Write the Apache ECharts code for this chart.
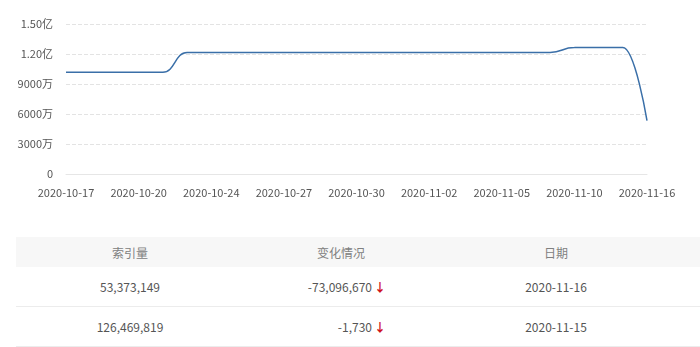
<!DOCTYPE html>
<html><head><meta charset="utf-8">
<script src="https://cdn.jsdelivr.net/npm/echarts@6/dist/echarts.min.js"></script>
<style>
html,body{margin:0;padding:0;background:#fff;width:700px;height:347px;overflow:hidden;font-family:"Noto Sans CJK SC","Noto Sans",sans-serif;}
#chart{position:absolute;left:0;top:0;width:700px;height:230px;}
#tbl{position:absolute;left:16px;top:237px;width:684px;font-size:12px;color:#555;}
.row{position:relative;height:39px;border-bottom:1px solid #ececec;}
.head{height:30px;background:#f7f7f7;border-bottom:none;color:#808080;}
.cell{position:absolute;top:0;height:100%;display:flex;align-items:center;justify-content:center;}
.c1{left:0;width:228px;}
.c2{left:228px;width:194px;}
.c3{left:422px;width:236px;}
.row .c2.val{justify-content:flex-end;width:142px;}
.arr{color:#d0141c;font-weight:bold;margin-left:2px;font-size:12px;}
</style>
</head><body>
<div id="chart"></div>
<div id="tbl"></div>
<script>
const dates = ["2020-10-17","2020-10-18","2020-10-19","2020-10-20","2020-10-21","2020-10-22","2020-10-24","2020-10-25","2020-10-26","2020-10-27","2020-10-28","2020-10-29","2020-10-30","2020-10-31","2020-11-01","2020-11-02","2020-11-03","2020-11-04","2020-11-05","2020-11-07","2020-11-08","2020-11-10","2020-11-14","2020-11-15","2020-11-16"];
const indexValues = [101700000,101700000,101700000,101700000,101700000,121600000,121600000,121600000,121600000,121600000,121600000,121600000,121600000,121600000,121600000,121600000,121600000,121600000,121600000,121600000,121600000,126470000,126471549,126469819,53373149];
const tableHeaders = ["索引量","变化情况","日期"];
const tableVolumes = ["53,373,149","126,469,819"];
const tableChanges = ["-73,096,670","-1,730"];
const tableDates = ["2020-11-16","2020-11-15"];

function fmtY(v){
  if(v===0) return "0";
  if(v>=100000000) return (v/100000000).toFixed(2)+"亿";
  return (v/10000)+"万";
}
const chart = echarts.init(document.getElementById('chart'));
chart.setOption({
  animation:false,
  grid:{left:66,right:53,top:24,height:150},
  xAxis:{type:'category',data:dates,boundaryGap:false,
    axisLine:{lineStyle:{color:'#e6e6e6'}},axisTick:{show:false},
    axisLabel:{interval:2,color:'#555',fontSize:11,margin:13,fontFamily:'"Noto Sans CJK SC"'}},
  yAxis:{type:'value',min:0,max:150000000,interval:30000000,
    axisLine:{show:false},axisTick:{show:false},
    splitLine:{lineStyle:{color:'#e3e3e3',type:'dashed'}},
    axisLabel:{formatter:fmtY,color:'#555',fontSize:11,margin:13,fontFamily:'"Noto Sans CJK SC"'}},
  series:[{type:'line',data:indexValues,smooth:0.5,smoothMonotone:'x',showSymbol:false,
    lineStyle:{color:'#3a6fa8',width:1.5}}]
});

const tbl=document.getElementById('tbl');
let h='<div class="row head"><div class="cell c1">'+tableHeaders[0]+'</div><div class="cell c2">'+tableHeaders[1]+'</div><div class="cell c3">'+tableHeaders[2]+'</div></div>';
for(let i=0;i<tableVolumes.length;i++){
  h+='<div class="row"><div class="cell c1">'+tableVolumes[i]+'</div><div class="cell c2 val"><span>'+tableChanges[i]+'</span><span class="arr">↓</span></div><div class="cell c3">'+tableDates[i]+'</div></div>';
}
tbl.innerHTML=h;
</script>
</body></html>
